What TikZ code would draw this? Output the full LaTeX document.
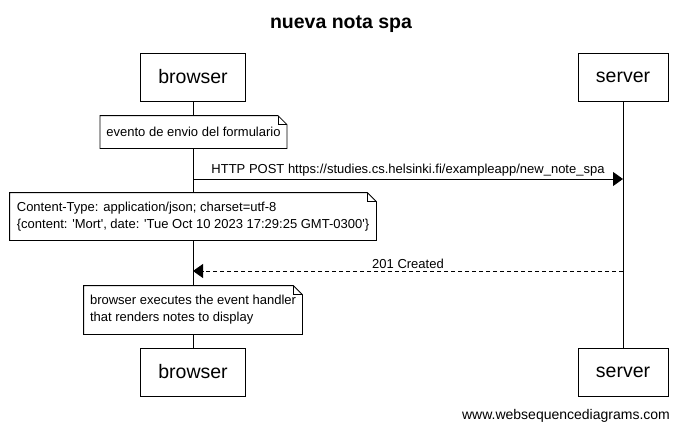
\documentclass[tikz,border=0pt]{standalone}
\usepackage{fontspec}
\setmainfont{Liberation Sans}
\usetikzlibrary{arrows.meta, positioning}
\newcommand{\sq}{\textquotesingle}
% outline of a note with a folded corner
\newcommand{\dogear}[1]{%
    \draw (#1.south west) -- (#1.south east) -- ([yshift=-9pt]#1.north east) -- ([xshift=-9pt]#1.north east) -- (#1.north west) -- cycle;
    \draw ([xshift=-9pt]#1.north east) |- ([yshift=-9pt]#1.north east);
}

\begin{document}
\begin{tikzpicture}[x=1pt, y=-1pt, line width=0.8pt,
    actor/.style={draw, fill=white, inner xsep=18pt, minimum height=48pt, font=\fontsize{19.5}{22}\selectfont},
    notebox/.style={fill=white, inner xsep=6pt, minimum height=47pt, align=left, font=\fontsize{13}{17}\selectfont},
    msg/.style={-{Triangle[length=10pt,width=14pt]}},
    msglabel/.style={above, inner sep=2pt, font=\fontsize{13}{15}\selectfont}]

    \useasboundingbox (0,0) rectangle (682,431);

    % Title
    \node[font=\fontsize{19.5}{22}\selectfont\bfseries] (title) at (341,24) {nueva nota spa};

    % Participants
    \node[actor] (browserTop) at (193,77) {browser};
    \node[actor] (serverTop) at (623,77) {server};
    \node[actor] (browserBot) at (193,372) {browser};
    \node[actor] (serverBot) at (623,372) {server};

    % Lifelines
    \draw (browserTop) -- (browserBot);
    \draw (serverTop) -- (serverBot);

    % Notes
    \node[notebox, minimum width=185pt, minimum height=32pt] (formNote) at (193.5,132) {evento de envio del formulario};
    \dogear{formNote}
    \node[notebox, minimum width=366pt] (jsonNote) at (193,216.5) {Content-Type: application/json; charset=utf-8\\\{content: \sq Mort\sq, date: \sq Tue Oct 10 2023 17:29:25 GMT-0300\sq\}};
    \dogear{jsonNote}
    \node[notebox, minimum width=218pt, minimum height=48pt] (renderNote) at (193,310) {browser executes the event handler\\that renders notes to display};
    \dogear{renderNote}

    % Messages
    \coordinate (postStart) at (193,179);
    \coordinate (postEnd) at (623,179);
    \draw[msg] (postStart) -- node[msglabel] {HTTP POST https://studies.cs.helsinki.fi/exampleapp/new\_note\_spa} (postEnd);

    \coordinate (createdStart) at (623,271);
    \coordinate (createdEnd) at (193,271);
    \draw[msg, dash pattern=on 4pt off 3pt] (createdStart) -- node[msglabel] {201 Created} (createdEnd);

    % Credit
    \node[font=\fontsize{14}{16}\selectfont] (credit) at (566,416) {www.websequencediagrams.com};
\end{tikzpicture}
\end{document}
